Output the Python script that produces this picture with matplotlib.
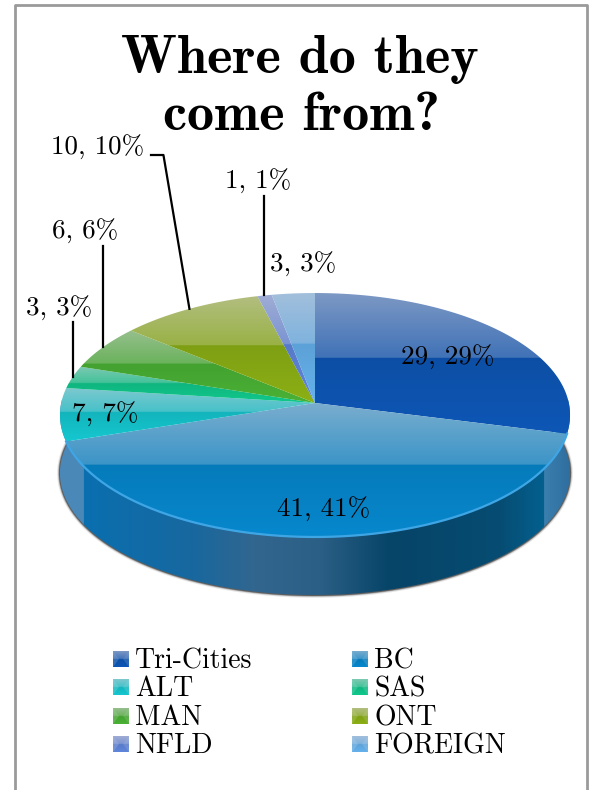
import numpy as np
import matplotlib
matplotlib.use('Agg')
import matplotlib.pyplot as plt
from matplotlib.colors import to_rgb, LinearSegmentedColormap
from matplotlib.patches import Polygon

# Student origins
categories = ['Tri-Cities', 'BC', 'ALT', 'SAS', 'MAN', 'ONT', 'NFLD', 'FOREIGN']
values = [29, 41, 7, 3, 6, 10, 1, 3]
base_colors = ['#0d52ac', '#0680c2', '#14bcc4', '#10bd84', '#46a832', '#84a614', '#5b7fd0', '#60a8e0']

# label centres, leader tops (None = label sits without a leader)
label_pos = [(448, 357), (324, 509), (105, 414), (59, 308), (85, 231), (98, 147), (258, 181), (303, 264)]
leader_top = [None, None, None, 322, 246, 155, 196, None]

# side wall shading, left to right
wall_x = [60, 82, 82.1, 190, 255, 320, 390, 500, 545, 545.1, 570]
wall_c = ['#4a88b8', '#4a88b8', '#0a6fb0', '#17689f', '#32668f', '#2c5f85', '#064468', '#074c72', '#03608f', '#3a7fae', '#2f6fa0']

W, H = 592, 790
CX, CY = 315, 403      # apex of the wedges
A, B, C = 253.8, 120.8, 0.0984   # tilted disc
DEPTH = 58

fig = plt.figure(figsize=(W / 100, H / 100), dpi=100)
ax = fig.add_axes([0, 0, 1, 1])
ax.set_xlim(0, W)
ax.set_ylim(H, 0)
ax.axis('off')


def project(frac):
    # fraction of the pie, clockwise from 12 o'clock -> pixel position
    t = 2 * np.pi * np.asarray(frac)
    X, Y = np.sin(t), np.cos(t)
    d = 1 + C * Y
    return CX + A * X / d, CY - B * Y / d


def shaded(patch_xy, img, extent, z):
    # gradient image clipped to a polygon
    poly = Polygon(patch_xy, closed=True, transform=ax.transData, fc='none', ec='none')
    ax.add_patch(poly)
    im = ax.imshow(img, extent=extent, aspect='auto', interpolation='bilinear', zorder=z)
    im.set_clip_path(poly)


def wedge_image(col, split_at=0.46):
    # flat colour below the band, washed-out gloss above it
    col = np.array(to_rgb(col))
    tint = np.array(to_rgb('#d8d2d8'))
    n = 200
    split = int(n * split_at)
    img = np.zeros((n, 1, 3))
    for i in range(n):
        if i < split:
            a = 0.55 - 0.30 * i / split
            img[i, 0] = col * (1 - a) + tint * a
        else:
            k = (i - split) / (n - split)
            img[i, 0] = col * (0.96 + 0.10 * k)
    return np.clip(img, 0, 1)


fracs = np.cumsum([0] + values) / sum(values)

# soft shadow along the underside
tt = np.linspace(0.22, 0.78, 200)
sx, sy = project(tt)
for lw, al in [(4, 0.12), (2.5, 0.3), (1.5, 0.55)]:
    ax.plot(sx, sy + DEPTH, color='#222222', lw=lw, alpha=al, zorder=1, solid_capstyle='round')

# outer wall
cmap = LinearSegmentedColormap.from_list(
    'wall', [((x - wall_x[0]) / (wall_x[-1] - wall_x[0]), c) for x, c in zip(wall_x, wall_c)])
tt = np.linspace(0.2, 0.8, 300)
rx, ry = project(tt)
wall = np.column_stack([np.r_[rx, rx[::-1]], np.r_[ry, ry[::-1] + DEPTH]])
shaded(wall, cmap(np.linspace(0, 1, 512))[None, :, :3], (wall_x[0], wall_x[-1], 620, 400), 2)

# top faces
for i, col in enumerate(base_colors):
    t = np.linspace(fracs[i], fracs[i + 1], 120)
    x, y = project(t)
    xy = np.column_stack([np.r_[CX, x], np.r_[CY, y]])
    shaded(xy, wedge_image(col), (xy[:, 0].min(), xy[:, 0].max(), xy[:, 1].max(), xy[:, 1].min()), 3)

# bright rim on the front edge
x, y = project(np.linspace(fracs[1], fracs[2], 200))
ax.plot(x, y, color='#3fa6e6', lw=1.6, zorder=4)

# leaders and data labels
for i, (v, pos) in enumerate(zip(values, label_pos)):
    if leader_top[i] is not None:
        mx, my = project((fracs[i] + fracs[i + 1]) / 2)
        if categories[i] == 'ONT':
            ax.plot([pos[0] + 53, mx - 26, mx], [leader_top[i], leader_top[i], my], color='k', lw=1.6, zorder=5)
        else:
            ax.plot([mx, mx], [leader_top[i], my], color='k', lw=1.6, zorder=5)
    ax.text(pos[0], pos[1], f'{v}, {v}%', family='cmr10', fontsize=19.5, ha='center', va='center', zorder=6)

# title
ax.text(300, 60, 'Where do they', family='cmb10', fontsize=39, ha='center', va='center', color='k')
ax.text(301, 116, 'come from?', family='cmb10', fontsize=39, ha='center', va='center', color='k')

# legend with small glossy keys
legend_x = [113, 352]
legend_y = [659, 687, 716, 744]
for i, (name, col) in enumerate(zip(categories, base_colors)):
    lx, ly = legend_x[i % 2], legend_y[i // 2]
    ax.imshow(wedge_image(col, 0.5), extent=(lx, lx + 16, ly + 8, ly - 8), aspect='auto', zorder=3)
    c = np.array(to_rgb(col))
    ax.add_patch(Polygon([(lx, ly - 8), (lx + 6, ly), (lx, ly + 8)], fc=c * 0.5 + 0.5, ec='none', alpha=0.3, zorder=4))
    ax.add_patch(Polygon([(lx + 16, ly - 8), (lx + 10, ly), (lx + 16, ly + 8)], fc=c * 0.5 + 0.5, ec='none', alpha=0.25, zorder=4))
    ax.text(lx + 22, ly + 2, name, family='cmr10', fontsize=20, ha='left', va='center', zorder=6)

ax.set_xlim(0, W)
ax.set_ylim(H, 0)

# chart frame, open at the bottom of the page
ax.plot([15, 15, 587, 587], [H, 5, 5, H], color='#9a9a9a', lw=2, zorder=7)

fig.savefig('out.png', dpi=100)
